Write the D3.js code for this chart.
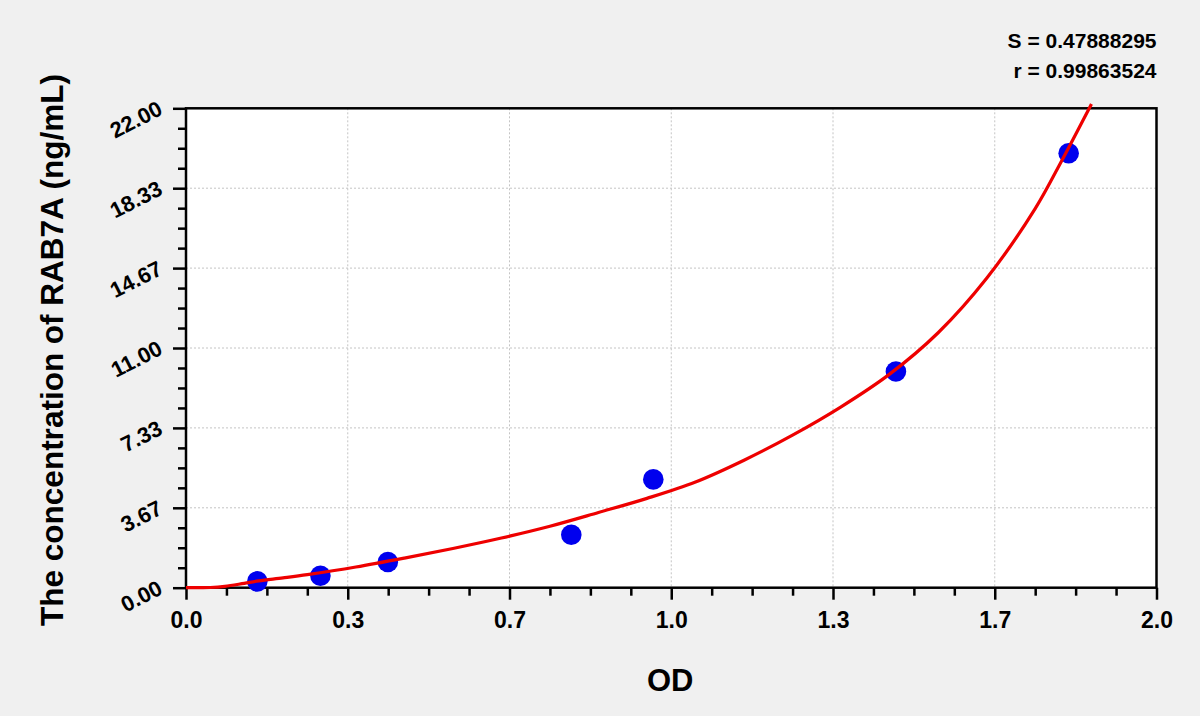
<!DOCTYPE html>
<html>
<head>
<meta charset="utf-8">
<script src="https://cdn.jsdelivr.net/npm/d3@7"></script>
<style>
  body { margin: 0; background: #f0f0f0; }
  svg { display: block; font-family: "Liberation Sans", Arial, sans-serif; font-weight: bold; }
</style>
</head>
<body>
<svg id="chart" width="1200" height="716"></svg>
<script>
"use strict";
// standard points (OD, concentration)
var odValues = [0.147, 0.277, 0.416, 0.794, 0.963, 1.463, 1.819];
var concValues = [0.29, 0.55, 1.18, 2.43, 4.97, 9.92, 19.94];

// fitted curve
var curveOD = [0, 0.05, 0.08, 0.12, 0.15, 0.2, 0.25, 0.35, 0.45, 0.55, 0.65, 0.75, 0.85, 0.95, 1.05, 1.15, 1.25, 1.35, 1.45, 1.55, 1.65, 1.75, 1.8, 1.866];
var curveConc = [0, 0.01, 0.06, 0.2, 0.31, 0.45, 0.6, 0.95, 1.36, 1.8, 2.28, 2.82, 3.45, 4.1, 4.85, 5.85, 7.0, 8.3, 9.8, 11.7, 14.2, 17.4, 19.4, 22.2];

var xTicks = [0, 1/3, 2/3, 1, 4/3, 5/3, 2];
var xTickLabels = ["0.0", "0.3", "0.7", "1.0", "1.3", "1.7", "2.0"];
var yTicks = [0, 22/6, 44/6, 11, 88/6, 110/6, 22];
var yTickLabels = ["0.00", "3.67", "7.33", "11.00", "14.67", "18.33", "22.00"];

var statLines = ["S = 0.47888295", "r = 0.99863524"];
var xTitle = "OD";
var yTitle = "The concentration of RAB7A (ng/mL)";

var plotLeft = 186, plotRight = 1156.5, plotTop = 108.3, plotBottom = 587.7;

var svg = d3.select("#chart");
var x = d3.scaleLinear().domain([0, 2]).range([plotLeft, plotRight]);
var y = d3.scaleLinear().domain([0, 22]).range([plotBottom, plotTop]);

// plot area
svg.append("rect")
	.attr("x", plotLeft).attr("y", plotTop)
	.attr("width", plotRight - plotLeft).attr("height", plotBottom - plotTop)
	.attr("fill", "white");

// grid
var grid = svg.append("g").attr("stroke", "#c4c4c4").attr("stroke-width", 1).attr("stroke-dasharray", "2,2");
grid.selectAll("line.gx")
	.data(xTicks.slice(1, -1))
	.enter().append("line")
	.attr("class", "gx")
	.attr("x1", function(d){ return x(d); }).attr("x2", function(d){ return x(d); })
	.attr("y1", plotTop).attr("y2", plotBottom);
grid.selectAll("line.gy")
	.data(yTicks.slice(1, -1))
	.enter().append("line")
	.attr("class", "gy")
	.attr("y1", function(d){ return y(d); }).attr("y2", function(d){ return y(d); })
	.attr("x1", plotLeft).attr("x2", plotRight);

// minor tick positions: 3 between each major
var xMinor = [], yMinor = [];
for (var i = 0; i < 6; i++) {
	for (var k = 1; k < 4; k++) {
		xMinor.push(xTicks[i] + (xTicks[i+1] - xTicks[i]) * k / 4);
		yMinor.push(yTicks[i] + (yTicks[i+1] - yTicks[i]) * k / 4);
	}
}

// x axis
var xAxis = svg.append("g")
	.attr("transform", "translate(0," + plotBottom + ")")
	.call(d3.axisBottom(x).tickValues(xTicks).tickSize(12).tickPadding(8)
		.tickFormat(function(d, i){ return xTickLabels[i]; }));
svg.append("g")
	.attr("transform", "translate(0," + plotBottom + ")")
	.call(d3.axisBottom(x).tickValues(xMinor).tickSize(8).tickFormat(""));

// y axis
var yAxis = svg.append("g")
	.attr("transform", "translate(" + plotLeft + ",0)")
	.call(d3.axisLeft(y).tickValues(yTicks).tickSize(13)
		.tickFormat(function(d, i){ return yTickLabels[i]; }));
svg.append("g")
	.attr("transform", "translate(" + plotLeft + ",0)")
	.call(d3.axisLeft(y).tickValues(yMinor).tickSize(8).tickFormat(""));

svg.selectAll(".domain").remove();
svg.selectAll(".tick line").attr("stroke", "black").attr("stroke-width", 2.5);

xAxis.selectAll("text")
	.attr("font-size", 23).attr("font-weight", "bold")
	.attr("font-family", "Liberation Sans, Arial, sans-serif")
	.attr("fill", "black")
	.attr("dy", null).attr("y", 40);

yAxis.selectAll("text")
	.attr("font-size", 22).attr("font-weight", "bold")
	.attr("font-family", "Liberation Sans, Arial, sans-serif")
	.attr("fill", "black")
	.attr("dy", null).attr("x", null).attr("y", null)
	.attr("text-anchor", "end")
	.attr("transform", "translate(-22,5) rotate(-27)");

// frame
svg.append("rect")
	.attr("x", plotLeft).attr("y", plotTop)
	.attr("width", plotRight - plotLeft).attr("height", plotBottom - plotTop)
	.attr("fill", "none").attr("stroke", "black").attr("stroke-width", 2.5);

// points
svg.selectAll("circle.pt")
	.data(odValues)
	.enter().append("circle")
	.attr("class", "pt")
	.attr("cx", function(d){ return x(d); })
	.attr("cy", function(d, i){ return y(concValues[i]); })
	.attr("r", 10.3)
	.attr("fill", "#0000ee");

// fitted curve (drawn over the points)
var curveData = curveOD.map(function(d, i){ return [d, curveConc[i]]; });
var line = d3.line()
	.x(function(d){ return x(d[0]); })
	.y(function(d){ return y(d[1]); })
	.curve(d3.curveCatmullRom.alpha(0.5));
svg.append("path")
	.datum(curveData)
	.attr("d", line)
	.attr("fill", "none")
	.attr("stroke", "#ee0000")
	.attr("stroke-width", 3.2)
	.attr("stroke-linejoin", "round");

// stats text
svg.selectAll("text.stat")
	.data(statLines)
	.enter().append("text")
	.attr("class", "stat")
	.attr("x", plotRight)
	.attr("y", function(d, i){ return 48 + i * 30; })
	.attr("text-anchor", "end")
	.attr("font-size", 21)
	.attr("fill", "black")
	.text(function(d){ return d; });

// axis titles
svg.append("text")
	.attr("x", (plotLeft + plotRight) / 2 - 1)
	.attr("y", 691)
	.attr("text-anchor", "middle")
	.attr("font-size", 31)
	.attr("fill", "black")
	.text(xTitle);

svg.append("text")
	.attr("transform", "translate(63,350) rotate(-90)")
	.attr("text-anchor", "middle")
	.attr("font-size", 31.5)
	.attr("fill", "black")
	.text(yTitle);
</script>
</body>
</html>
